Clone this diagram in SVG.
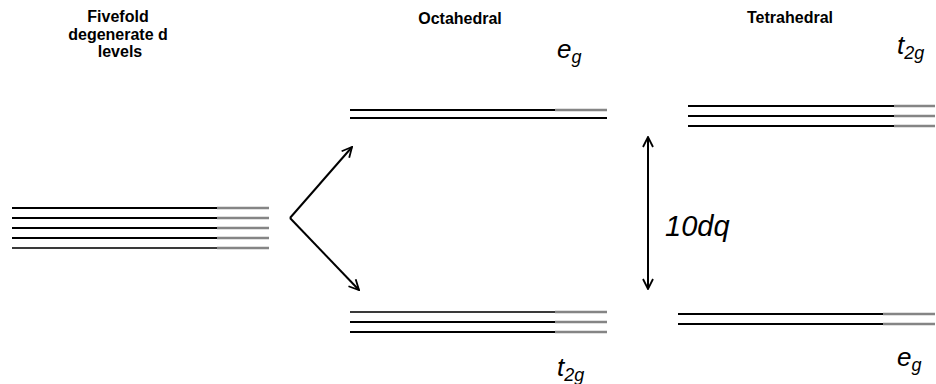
<svg xmlns="http://www.w3.org/2000/svg" width="936" height="384" viewBox="0 0 936 384">
<defs>
<style>
.k{stroke:#000;stroke-width:2;fill:none}
.d{stroke:#3a3a3a;stroke-width:2;fill:none}
.g{stroke:#858585;stroke-width:2.5;fill:none}
.h{font-family:"Liberation Sans",Arial,sans-serif;font-weight:bold;font-size:16px;fill:#000;text-anchor:middle}
.lab{font-family:"Liberation Sans",Arial,sans-serif;font-style:italic;fill:#000}
.ar{stroke:#000;stroke-width:2;fill:none}
</style>
<marker id="ah" viewBox="0 0 12 12" refX="11" refY="6" markerWidth="12" markerHeight="12" markerUnits="userSpaceOnUse" orient="auto-start-reverse">
<path d="M1,1 L11,6 L1,11" stroke="#000" stroke-width="1.8" fill="none"/>
</marker>
</defs>
<rect width="936" height="384" fill="#fff"/>

<g id="free-ion">
<text class="h" x="118" y="22">Fivefold</text>
<text class="h" x="118" y="40">degenerate d</text>
<text class="h" x="120" y="57">levels</text>
<path class="k" d="M12,208H217M12,218H217M12,228H217M12,238H217"/>
<path class="d" d="M12,248H217"/>
<path class="g" d="M217,208H269M217,218H269M217,228H269M217,238H269M217,248H269"/>
</g>

<g id="octahedral">
<text class="h" x="460" y="24">Octahedral</text>
<g id="oct-eg">
<path class="k" d="M350,110H555M350,118H607"/>
<path class="g" d="M555,110H607"/>
<text class="lab" x="557" y="58" font-size="26">e<tspan font-size="18" dy="5">g</tspan></text>
</g>
<g id="oct-t2g">
<path class="d" d="M350,312H555"/>
<path class="k" d="M350,322H555M350,332H555"/>
<path class="g" d="M555,312H607M555,322H607M555,332H607"/>
<text class="lab" x="557" y="376" font-size="26">t<tspan font-size="18" dy="5">2g</tspan></text>
</g>
</g>

<g id="tetrahedral">
<text class="h" x="790" y="23">Tetrahedral</text>
<g id="tet-t2g">
<path class="k" d="M688,106H894M688,116H894M688,126H894"/>
<path class="g" d="M894,106H935M894,116H935M894,126H935"/>
<text class="lab" x="897" y="54" font-size="26">t<tspan font-size="18" dy="5">2g</tspan></text>
</g>
<g id="tet-eg">
<path class="k" d="M678,314H883M678,324H883"/>
<path class="g" d="M883,314H935M883,324H935"/>
<text class="lab" x="897" y="366" font-size="26">e<tspan font-size="18" dy="5">g</tspan></text>
</g>
</g>

<g id="connectors">
<path class="ar" d="M290,218L352,147" marker-end="url(#ah)"/>
<path class="ar" d="M290,218L359,290" marker-end="url(#ah)"/>
<path class="ar" d="M648,137V289" marker-start="url(#ah)" marker-end="url(#ah)"/>
<text class="lab" x="665" y="236" font-size="29">10dq</text>
</g>
</svg>
